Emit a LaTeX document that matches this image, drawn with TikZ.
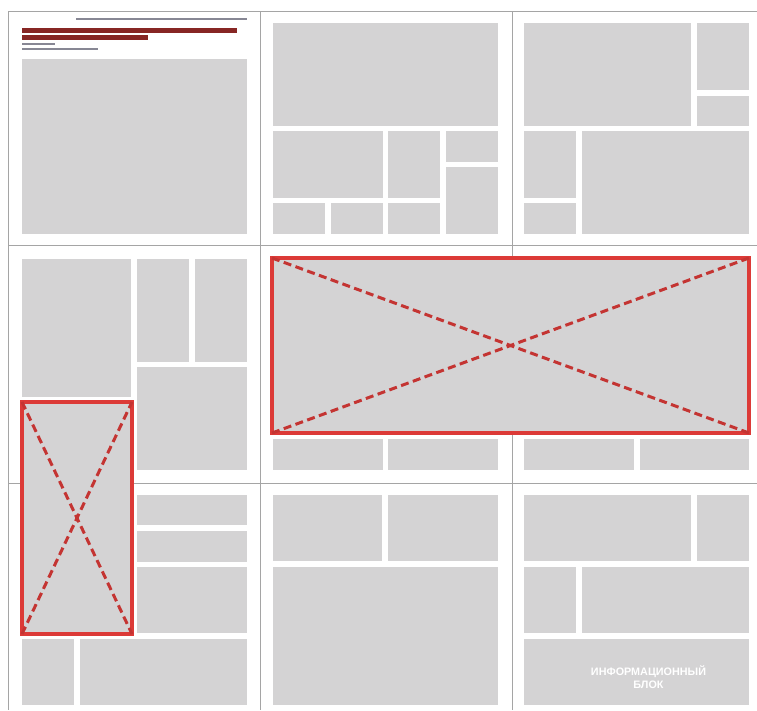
\documentclass[tikz,border=0pt]{standalone}
\usepackage{fontspec}
\newfontfamily\infofont{Liberation Sans}
\definecolor{blkgray}{RGB}{212,211,212}
\definecolor{gridgray}{RGB}{165,165,165}
\definecolor{framered}{RGB}{220,58,55}
\definecolor{dashred}{RGB}{196,52,50}
\definecolor{titlered}{RGB}{135,38,36}
\definecolor{rulegray}{RGB}{135,135,148}
\begin{document}
\begin{tikzpicture}[x=1pt,y=-1pt,
  blk/.style={fill=blkgray},
  gridline/.style={draw=gridgray,line width=1pt},
  redframe/.style={draw=framered,line width=3.2pt,fill=blkgray,inner sep=0pt,outer sep=0pt,anchor=north west},
  diag/.style={draw=dashred,line width=3pt,dash pattern=on 8pt off 4.5pt},
  rulebar/.style={draw=rulegray,line width=1.4pt},
  titlebar/.style={fill=titlered},
  infotext/.style={text=white,font=\infofont\bfseries\fontsize{10.8}{13.5}\selectfont,align=center}]
\useasboundingbox (0,0) rectangle (757,710);
\fill[white] (0,0) rectangle (757,710);
% grid
\draw[gridline] (8,11) -- (757,11);
\draw[gridline] (8,245) -- (757,245);
\draw[gridline] (8,483) -- (757,483);
\draw[gridline] (8,11) -- (8,710);
\draw[gridline] (260,11) -- (260,710);
\draw[gridline] (512,11) -- (512,710);
% cell 1
\draw[rulebar] (76,19) -- (247,19);
\fill[titlebar] (22,28) rectangle (237,32.5);
\fill[titlebar] (22,35) rectangle (148,39.5);
\draw[rulebar,line width=1.2pt] (22,44) -- (55,44);
\draw[rulebar,line width=1.2pt] (22,49) -- (98,49);
\fill[blk] (22,59) rectangle (247,234);
% cell 2
\fill[blk] (273,23) rectangle (498,126);
\fill[blk] (273,131) rectangle (383,198);
\fill[blk] (388,131) rectangle (440,198);
\fill[blk] (446,131) rectangle (498,162);
\fill[blk] (446,167) rectangle (498,234);
\fill[blk] (273,203) rectangle (325,234);
\fill[blk] (331,203) rectangle (383,234);
\fill[blk] (388,203) rectangle (440,234);
% cell 3
\fill[blk] (524,23) rectangle (691,126);
\fill[blk] (697,23) rectangle (749,90);
\fill[blk] (697,96) rectangle (749,126);
\fill[blk] (524,131) rectangle (576,198);
\fill[blk] (524,203) rectangle (576,234);
\fill[blk] (582,131) rectangle (749,234);
% cell 4
\fill[blk] (22,259) rectangle (131,397);
\fill[blk] (137,259) rectangle (189,362);
\fill[blk] (195,259) rectangle (247,362);
\fill[blk] (137,367) rectangle (247,470);
% middle row under big frame
\fill[blk] (273,439) rectangle (383,470);
\fill[blk] (388,439) rectangle (498,470);
\fill[blk] (524,439) rectangle (634,470);
\fill[blk] (640,439) rectangle (749,470);
% cell 7
\fill[blk] (137,495) rectangle (247,525);
\fill[blk] (137,531) rectangle (247,562);
\fill[blk] (137,567) rectangle (247,633);
\fill[blk] (22,639) rectangle (74,705);
\fill[blk] (80,639) rectangle (247,705);
% cell 8
\fill[blk] (273,495) rectangle (382,561);
\fill[blk] (388,495) rectangle (498,561);
\fill[blk] (273,567) rectangle (498,705);
% cell 9
\fill[blk] (524,495) rectangle (691,561);
\fill[blk] (697,495) rectangle (749,561);
\fill[blk] (524,567) rectangle (576,633);
\fill[blk] (582,567) rectangle (749,633);
\fill[blk] (524,639) rectangle (749,705);
\node[infotext] (info) at (648.5,677) {ИНФОРМАЦИОННЫЙ\\БЛОК};
% red frames
\node[redframe,minimum width=477pt,minimum height=175pt] (big) at (272,258) {};
\draw[diag] (big.north west) -- (big.south east);
\draw[diag] (big.south west) -- (big.north east);
\node[redframe,minimum width=110pt,minimum height=232pt] (small) at (22,402) {};
\draw[diag] (small.north west) -- (small.south east);
\draw[diag] (small.south west) -- (small.north east);
\end{tikzpicture}
\end{document}
